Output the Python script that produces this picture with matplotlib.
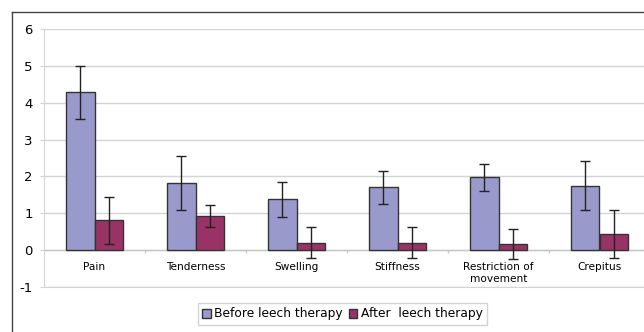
import matplotlib

matplotlib.use("Agg")
import matplotlib.pyplot as plt
import numpy as np
from matplotlib.lines import Line2D
from matplotlib.patches import Patch

categories = ["Pain", "Tenderness", "Swelling", "Stiffness", "Restriction of\nmovement", "Crepitus"]
before_mean = [4.28, 1.83, 1.38, 1.71, 1.98, 1.75]
before_err = [0.72, 0.73, 0.48, 0.45, 0.37, 0.67]
after_mean = [0.81, 0.93, 0.20, 0.20, 0.17, 0.44]
after_err = [0.63, 0.30, 0.42, 0.42, 0.41, 0.66]
series_labels = ["Before leech therapy", "After  leech therapy"]
y_ticks = [-1, 0, 1, 2, 3, 4, 5, 6]

BEFORE_COLOR = "#9999cc"
AFTER_COLOR = "#993366"
GRID_COLOR = "#d4d4d4"
FONT = "DejaVu Sans"

fig = plt.figure(figsize=(6.44, 3.32), dpi=100)
ax = fig.add_axes([44 / 644, 1 - 287 / 332, 606 / 644, 258 / 332])

x = np.arange(len(categories))
width = 0.287
err_kw = dict(ecolor="#222222", elinewidth=1.0, capsize=3.6, capthick=1.0)

ax.bar(x - width / 2, before_mean, width, yerr=before_err, color=BEFORE_COLOR,
       edgecolor="#333333", linewidth=1.0, error_kw=err_kw, zorder=3)
ax.bar(x + width / 2, after_mean, width, yerr=after_err, color=AFTER_COLOR,
       edgecolor="#333333", linewidth=1.0, error_kw=err_kw, zorder=3)

ax.set_xlim(-0.5, len(categories) - 0.5)
ax.set_ylim(-1, 6)
ax.set_yticks(y_ticks)
ax.set_yticklabels([str(t) for t in y_ticks], fontsize=9.5, family=FONT)
ax.set_xticks([])
ax.yaxis.grid(True, color=GRID_COLOR, linewidth=1.0, zorder=0)
ax.tick_params(axis="y", length=3, color=GRID_COLOR, pad=5)
ax.axhline(0, color="#c8c8c8", linewidth=1.0, zorder=2)
ax.vlines(x[:-1] + 0.5, -0.08, 0, color="#c8c8c8", linewidth=1.0, zorder=2)

for spine in ["top", "right"]:
    ax.spines[spine].set_visible(False)
ax.spines["left"].set_color(GRID_COLOR)
ax.spines["bottom"].set_color(GRID_COLOR)

for xi, label in zip(x, categories):
    ax.text(xi, -0.33, label, ha="center", va="top", fontsize=7.6, family=FONT,
            linespacing=1.2)

handles = [
    Patch(facecolor=BEFORE_COLOR, edgecolor="#333333", linewidth=1.0),
    Patch(facecolor=AFTER_COLOR, edgecolor="#333333", linewidth=1.0),
]
fig.legend(handles, series_labels, loc="center", bbox_to_anchor=(342.5 / 644, 1 - 314 / 332),
           ncol=2, frameon=True, fancybox=False, edgecolor="#c8c8c8",
           handlelength=0.7, handleheight=0.7, handletextpad=0.3, columnspacing=0.5,
           borderpad=0.35, prop={"family": FONT, "size": 8.8})

# outer chart frame (left and top edges visible)
fig.add_artist(Line2D([12.5 / 644, 12.5 / 644], [0, 1 - 12 / 332], color="#444444", linewidth=1.0))
fig.add_artist(Line2D([12.5 / 644, 1], [1 - 12 / 332, 1 - 12 / 332], color="#444444", linewidth=1.0))

fig.savefig("out.png", dpi=100)
